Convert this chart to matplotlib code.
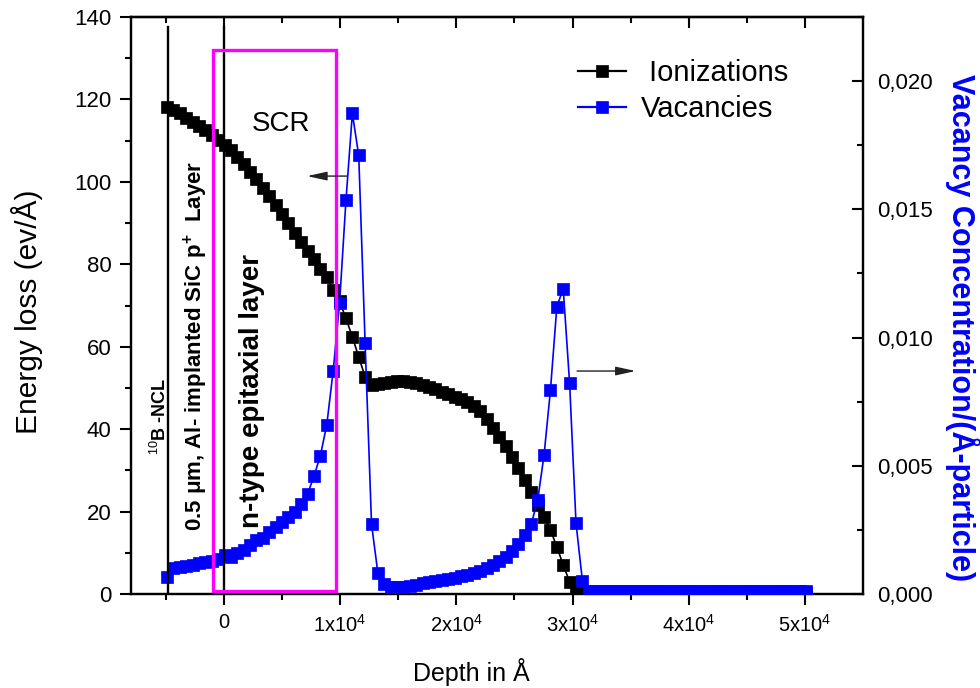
import matplotlib
matplotlib.use("Agg")
import matplotlib.pyplot as plt
from matplotlib.patches import Rectangle
from matplotlib.ticker import MultipleLocator, FixedLocator, FuncFormatter

plt.rcParams['font.family'] = ['Liberation Sans', 'DejaVu Sans']
plt.rcParams['mathtext.fontset'] = 'custom'
plt.rcParams['mathtext.rm'] = 'Liberation Sans'
plt.rcParams['mathtext.it'] = 'Liberation Sans:italic'
plt.rcParams['mathtext.bf'] = 'Liberation Sans:bold'

# ---------------- data ----------------
depth = [-4900, -4350, -3800, -3250, -2700, -2150, -1600, -1050, -500, 50,
         600, 1150, 1700, 2250, 2800, 3350, 3900, 4450, 5000, 5550,
         6100, 6650, 7200, 7750, 8300, 8850, 9400, 9950, 10500, 11050,
         11600, 12150, 12700, 13250, 13800, 14350, 14900, 15450, 16000, 16550,
         17100, 17650, 18200, 18750, 19300, 19850, 20400, 20950, 21500, 22050,
         22600, 23150, 23700, 24250, 24800, 25350, 25900, 26450, 27000, 27550,
         28100, 28650, 29200, 29750, 30300, 30850, 31400, 31950, 32500, 33050,
         33600, 34150, 34700, 35250, 35800, 36350, 36900, 37450, 38000, 38550,
         39100, 39650, 40200, 40750, 41300, 41850, 42400, 42950, 43500, 44050,
         44600, 45150, 45700, 46250, 46800, 47350, 47900, 48450, 49000, 49550,
         50100]

ionizations = [118.2, 117.4, 116.6, 115.6, 114.6, 113.6, 112.5, 111.3, 110.1, 109.0,
               107.7, 106.0, 104.3, 102.5, 100.7, 98.6, 96.5, 94.4, 92.3, 90.0,
               87.7, 85.4, 83.2, 81.2, 78.9, 76.8, 73.8, 71.0, 66.9, 62.4,
               57.5, 52.7, 50.8, 51.0, 51.3, 51.5, 51.6, 51.6, 51.4, 51.1,
               50.7, 50.2, 49.7, 49.1, 48.5, 47.9, 47.3, 46.5, 45.6, 44.3,
               42.4, 40.2, 38.0, 35.8, 33.3, 30.6, 27.7, 24.8, 21.6, 18.8,
               15.5, 11.5, 7.0, 3.0, 0.8, 0.2, 0.2, 0.2, 0.2, 0.2,
               0.2, 0.2, 0.2, 0.2, 0.2, 0.2, 0.2, 0.2, 0.2, 0.2,
               0.2, 0.2, 0.2, 0.2, 0.2, 0.2, 0.2, 0.2, 0.2, 0.2,
               0.2, 0.2, 0.2, 0.2, 0.2, 0.2, 0.2, 0.2, 0.2, 0.2,
               0.2]

vacancies = [0.00067, 0.0010, 0.00105, 0.0011, 0.00115, 0.0012, 0.00125, 0.0013, 0.00138, 0.00152,
             0.00145, 0.0016, 0.0017, 0.0019, 0.0021, 0.0022, 0.0024, 0.0026, 0.0028, 0.0030,
             0.0032, 0.0035, 0.0039, 0.0046, 0.0054, 0.0066, 0.0087, 0.01134, 0.01535, 0.01874,
             0.0171, 0.00978, 0.00273, 0.00081, 0.00038, 0.00028, 0.00027, 0.00029, 0.00033, 0.00037,
             0.00041, 0.00045, 0.00049, 0.00053, 0.00058, 0.00063, 0.00069, 0.00075, 0.00082, 0.0009,
             0.0010, 0.00112, 0.00127, 0.00145, 0.00168, 0.00195, 0.0023, 0.00273, 0.00366, 0.00542,
             0.00795, 0.0112, 0.01191, 0.00821, 0.00276, 0.00052, 0.0001, 0.0001, 0.0001, 0.0001,
             0.0001, 0.0001, 0.0001, 0.0001, 0.0001, 0.0001, 0.0001, 0.0001, 0.0001, 0.0001,
             0.0001, 0.0001, 0.0001, 0.0001, 0.0001, 0.0001, 0.0001, 0.0001, 0.0001, 0.0001,
             0.0001, 0.0001, 0.0001, 0.0001, 0.0001, 0.0001, 0.0001, 0.0001, 0.0001, 0.0001,
             0.0001]

x_major = [0, 10000, 20000, 30000, 40000, 50000]
x_labels = ["0", "1x10$^{4}$", "2x10$^{4}$", "3x10$^{4}$", "4x10$^{4}$", "5x10$^{4}$"]
x_minor = [-5000, 5000, 15000, 25000, 35000, 45000]
y_left_major = [0, 20, 40, 60, 80, 100, 120, 140]
y_right_major = [0.0, 0.005, 0.010, 0.015, 0.020]

layer_lines = [-4800, 0]          # boundaries of the layers
scr_box = (-950, 9650, 0.7, 132)  # x0, x1, y0, y1 (left axis units)

# ---------------- figure ----------------
fig = plt.figure(figsize=(9.8, 6.88), dpi=100)
ax = fig.add_axes([131/980, 1-594/688, (863-131)/980, (594-17)/688])
ax2 = ax.twinx()

ax.set_xlim(-8000, 55000)
ax.set_ylim(0, 140)
ax2.set_ylim(0, 0.0225)

l1, = ax.plot(depth, ionizations, color='black', lw=1.2, marker='s',
              ms=8.3, mew=0.5, mfc='black', mec='black', zorder=3)
l2, = ax2.plot(depth, vacancies, color='#0000FF', lw=1.2, marker='s',
               ms=8.3, mew=0.5, mfc='#0000FF', mec='#0000FF', zorder=3)

# layer boundary lines and SCR box (drawn on top, in left-axis units)
for xv in layer_lines:
    ax2.plot([xv, xv], [0, 137.6], color='black', lw=1.7, transform=ax.transData, zorder=5)
ax2.add_patch(Rectangle((scr_box[0], scr_box[2]), scr_box[1]-scr_box[0], scr_box[3]-scr_box[2],
                        fill=False, edgecolor='#FF00FF', lw=2.4, transform=ax.transData, zorder=6))

# arrows
ax2.annotate('', xy=(7155, 101.4), xytext=(10600, 101.4), xycoords=ax.transData,
             textcoords=ax.transData,
             arrowprops=dict(arrowstyle='-|>,head_length=1.0,head_width=0.22',
                             color='#222222', lw=1.0, mutation_scale=12, shrinkA=0, shrinkB=0),
             zorder=7)
ax2.annotate('', xy=(35430, 54.1), xytext=(30390, 54.1), xycoords=ax.transData,
             textcoords=ax.transData,
             arrowprops=dict(arrowstyle='-|>,head_length=1.0,head_width=0.22',
                             color='#222222', lw=1.0, mutation_scale=12, shrinkA=0, shrinkB=0),
             zorder=7)

# texts
ax.text(4914, 114.0, "SCR", fontsize=20, ha='center', va='center', zorder=8)
ax.text(-5000, 33.7, "$^{10}$B -NCL", fontsize=13, fontweight='bold', rotation=90,
        rotation_mode='anchor', ha='left', va='baseline', zorder=8)
ax.text(-1922, 15.3, "0.5 \u03bcm, Al- implanted SiC p$^{\\mathbf{+}}$  Layer", fontsize=16,
        fontweight='bold', rotation=90, rotation_mode='anchor', ha='left', va='baseline', zorder=8)
ax.text(3017, 16.0, "n-type epitaxial layer", fontsize=20, fontweight='bold', rotation=90,
        rotation_mode='anchor', ha='left', va='baseline', zorder=8)

# axes styling
for a in (ax, ax2):
    for s in a.spines.values():
        s.set_linewidth(1.6)

ax.xaxis.set_major_locator(FixedLocator(x_major))
ax.set_xticklabels(x_labels)
ax.xaxis.set_minor_locator(FixedLocator(x_minor))
ax.yaxis.set_major_locator(FixedLocator(y_left_major))
ax.yaxis.set_minor_locator(MultipleLocator(10))
ax.tick_params(axis='x', which='major', direction='out', length=8, width=1.5, labelsize=14.5, pad=6)
ax.tick_params(axis='x', which='minor', direction='out', length=4.5, width=1.5)
ax.tick_params(axis='y', which='major', direction='out', length=8, width=1.5, labelsize=16, pad=6)
ax.tick_params(axis='y', which='minor', direction='out', length=4.5, width=1.5)

sec = ax.secondary_xaxis('top')
sec.xaxis.set_major_locator(FixedLocator(x_major))
sec.xaxis.set_minor_locator(FixedLocator(x_minor))
sec.tick_params(axis='x', which='major', direction='in', length=8, width=1.5, labeltop=False)
sec.tick_params(axis='x', which='minor', direction='in', length=4.5, width=1.5)
sec.spines['top'].set_linewidth(1.6)

ax2.yaxis.set_major_locator(FixedLocator(y_right_major))
ax2.yaxis.set_minor_locator(MultipleLocator(0.0025))
ax2.yaxis.set_major_formatter(FuncFormatter(lambda v, p: f"{v:.3f}".replace('.', ',')))
ax2.tick_params(axis='y', which='major', direction='in', length=8, width=1.5, labelsize=16, pad=10)
ax2.tick_params(axis='y', which='minor', direction='in', length=4.5, width=1.5)

ax.set_xlabel("Depth in \u00c5", fontsize=18, va='center')
ax.xaxis.set_label_coords(0.465, -0.135)
ax.set_ylabel("Energy loss (ev/\u00c5)", fontsize=21.5, va='center')
ax.yaxis.set_label_coords((27-131)/732, 0.49)
ax2.set_ylabel("Vacancy Concentration/(\u00c5-particle)", fontsize=22, fontweight='bold',
               color='#0000FF', rotation=270, va='center', ha='center')
ax2.yaxis.set_label_coords((962-131)/732, 0.461)

leg = ax2.legend([l1, l2], [" Ionizations", "Vacancies"], loc='upper left',
                 bbox_to_anchor=(0.611, 0.927), frameon=False, fontsize=21,
                 handlelength=1.62, handletextpad=0.52, labelspacing=0.27,
                 borderpad=0, borderaxespad=0)
for h in leg.legend_handles:
    h.set_linewidth(1.6)

fig.savefig("out.png", dpi=100)
